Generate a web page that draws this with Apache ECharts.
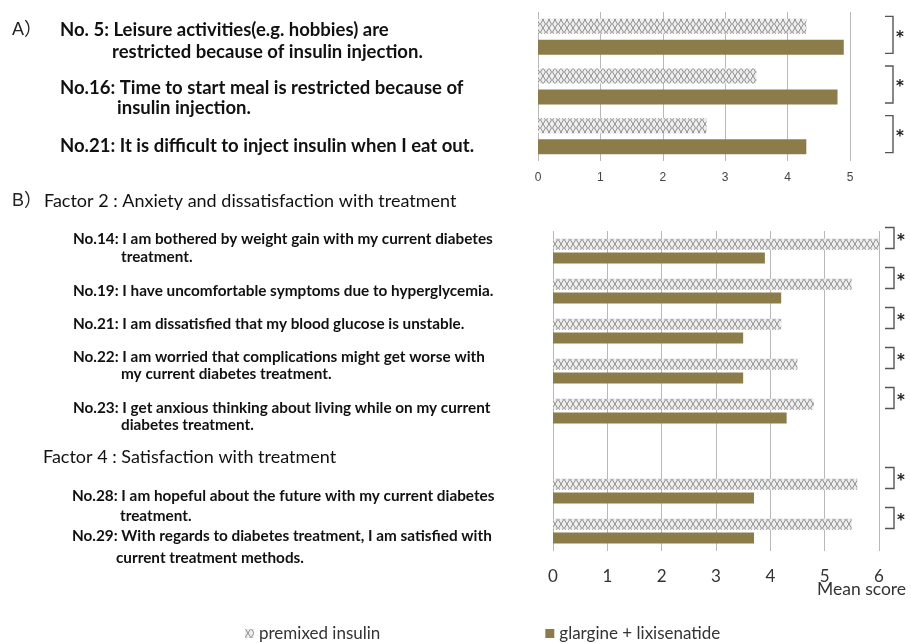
<!DOCTYPE html>
<html>
<head>
<meta charset="utf-8">
<script src="https://cdn.jsdelivr.net/npm/echarts@6/dist/echarts.min.js"></script>
<style>
  html, body { margin: 0; padding: 0; background: #fff; }
  #chart { width: 911px; height: 643px; }
</style>
</head>
<body>
<div id="chart"></div>
<script>
// ---- data ----
const seriesNames = ['premixed insulin', 'glargine + lixisenatide'];

// A) items restricted by insulin injection
const topCats = ['No.5', 'No.16', 'No.21'];
const topPremixed = [4.3, 3.5, 2.7];
const topGlargine = [4.9, 4.8, 4.3];
const topSig = ['*', '*', '*'];
const topTicks = [0, 1, 2, 3, 4, 5];
const topItems = [
  ['No. 5: Leisure activities(e.g. hobbies) are', 'restricted because of insulin injection.'],
  ['No.16: Time to start meal is restricted because of', 'insulin injection.'],
  ['No.21: It is difficult to inject insulin when I eat out.']
];

// B) factor 2 / factor 4 items ('' is the spacer row between the factors)
const bottomCats = ['No.14', 'No.19', 'No.21', 'No.22', 'No.23', '', 'No.28', 'No.29'];
const bottomPremixed = [6.0, 5.5, 4.2, 4.5, 4.8, null, 5.6, 5.5];
const bottomGlargine = [3.9, 4.2, 3.5, 3.5, 4.3, null, 3.7, 3.7];
const bottomSig = ['*', '*', '*', '*', '*', '', '*', '*'];
const bottomTicks = [0, 1, 2, 3, 4, 5, 6];
const factor2Title = 'Factor 2 : Anxiety and dissatisfaction with treatment';
const factor4Title = 'Factor 4 : Satisfaction with treatment';
const factor2Items = [
  ['No.14: I am bothered by weight gain with my current diabetes', 'treatment.'],
  ['No.19: I have uncomfortable symptoms due to hyperglycemia.'],
  ['No.21: I am dissatisfied that my blood glucose is unstable.'],
  ['No.22: I am worried that complications might get worse with', 'my current diabetes treatment.'],
  ['No.23: I get anxious thinking about living while on my current', 'diabetes treatment.']
];
const factor4Items = [
  ['No.28: I am hopeful about the future with my current diabetes', 'treatment.'],
  ['No.29: With regards to diabetes treatment, I am satisfied with', 'current treatment methods.']
];
const axisTitle = 'Mean score';

// ---- styling helpers ----
const FONT = 'Lato, "Open Sans", sans-serif';
const OLIVE = '#8b7c4a';

function hatchTile() {
  const c = document.createElement('canvas');
  c.width = 6; c.height = 8;
  const g = c.getContext('2d');
  g.fillStyle = '#eeeeee';
  g.fillRect(0, 0, 6, 8);
  g.strokeStyle = '#8d8d8d';
  g.lineWidth = 1;
  g.beginPath();
  g.moveTo(0.5, 0); g.lineTo(3, 4); g.lineTo(0.5, 8);
  g.moveTo(5.5, 0); g.lineTo(3, 4); g.lineTo(5.5, 8);
  g.stroke();
  return c;
}
const hatch = { image: hatchTile(), repeat: 'repeat' };

// significance bracket "]*" drawn to the right of a category row
function bracketSeries(gridIdx, sig, xMax, opt) {
  return {
    type: 'custom',
    xAxisIndex: gridIdx,
    yAxisIndex: gridIdx,
    clip: false,
    silent: true,
    data: sig.map((s, i) => [xMax, i]),
    renderItem: function (params, api) {
      const s = sig[params.dataIndex];
      if (!s) return null;
      const p = api.coord([api.value(0), api.value(1)]);
      const x0 = p[0] + opt.dx;
      const yc = p[1] + opt.dy;
      const y0 = yc - opt.h / 2, y1 = yc + opt.h / 2;
      return {
        type: 'group',
        children: [
          {
            type: 'polyline',
            shape: { points: [[x0, y0], [x0 + opt.w, y0], [x0 + opt.w, y1], [x0, y1]] },
            style: { stroke: '#555', lineWidth: 1.4, fill: null }
          },
          {
            type: 'text',
            style: {
              text: s, x: x0 + opt.w + 3, y: yc + 3,
              font: 'bold 15px "DejaVu Sans", sans-serif', fill: '#222',
              verticalAlign: 'middle'
            }
          }
        ]
      };
    }
  };
}

// left-hand statement text
const graphics = [];
function addText(text, x, y, font, fill) {
  graphics.push({
    type: 'text', x: x, y: y, silent: true,
    style: { text: text, font: font, fill: fill || '#111', verticalAlign: 'middle' }
  });
}
const topFont = 'bold 18.5px ' + FONT;
const itemFont = 'bold 15.3px ' + FONT;
const headFont = '18px ' + FONT;

addText('A）', 12, 30, '18px "Liberation Sans", "Noto Sans CJK JP", sans-serif', '#222');
const topRowY = [[30, 52], [88, 108], [146]];
const topIndent = [112, 117];
topItems.forEach((lines, i) => {
  addText(lines[0], 60, topRowY[i][0], topFont);
  if (lines[1]) addText(lines[1], topIndent[i], topRowY[i][1], topFont);
});

addText('B）', 12, 201, '18px "Liberation Sans", "Noto Sans CJK JP", sans-serif', '#222');
addText(factor2Title, 44, 201, headFont, '#111');
const f2Y = [[239, 257], [291], [324], [357, 374], [408, 425]];
factor2Items.forEach((lines, i) => {
  addText(lines[0], 73, f2Y[i][0], itemFont);
  if (lines[1]) addText(lines[1], 121, f2Y[i][1], itemFont);
});
addText(factor4Title, 43, 457, headFont, '#111');
const f4Y = [[496, 516], [536, 558]];
const f4Indent = [120, 116];
factor4Items.forEach((lines, i) => {
  addText(lines[0], 72, f4Y[i][0], itemFont);
  if (lines[1]) addText(lines[1], f4Indent[i], f4Y[i][1], itemFont);
});
addText(axisTitle, 817, 589, '17.5px ' + FONT, '#333');

// ---- chart ----
const chart = echarts.init(document.getElementById('chart'), null, { renderer: 'canvas' });

const splitLine = { show: true, lineStyle: { color: '#b8b8b8', width: 1 } };

chart.setOption({
  animation: false,
  backgroundColor: '#fff',
  legend: {
    data: seriesNames,
    left: 240, top: 620,
    itemWidth: 9, itemHeight: 9, itemGap: 165,
    itemTextGap: 5,
    icon: 'rect',
    textStyle: { fontFamily: FONT, fontSize: 17, color: '#333' }
  },
  grid: [
    { left: 538, width: 312, top: 12, height: 149 },
    { left: 553, width: 326, top: 231, height: 320 }
  ],
  xAxis: [
    {
      gridIndex: 0, type: 'value', min: topTicks[0], max: topTicks[topTicks.length - 1], interval: 1,
      axisLine: { show: false }, axisTick: { show: false }, splitLine: splitLine,
      axisLabel: { margin: 11, fontSize: 12, color: '#444', fontFamily: '"Liberation Sans", sans-serif' }
    },
    {
      gridIndex: 1, type: 'value', min: bottomTicks[0], max: bottomTicks[bottomTicks.length - 1], interval: 1,
      axisLine: { show: false }, axisTick: { show: false }, splitLine: splitLine,
      axisLabel: { margin: 17, fontSize: 17, color: '#333', fontFamily: FONT }
    }
  ],
  yAxis: [
    {
      gridIndex: 0, type: 'category', data: topCats, inverse: true,
      axisLine: { show: false }, axisTick: { show: false }, axisLabel: { show: false }
    },
    {
      gridIndex: 1, type: 'category', data: bottomCats, inverse: true,
      axisLine: { show: false }, axisTick: { show: false }, axisLabel: { show: false }
    }
  ],
  series: [
    {
      name: seriesNames[0], type: 'bar', xAxisIndex: 0, yAxisIndex: 0,
      data: topPremixed, barWidth: 15, barGap: '40%',
      itemStyle: { color: hatch }
    },
    {
      name: seriesNames[1], type: 'bar', xAxisIndex: 0, yAxisIndex: 0,
      data: topGlargine, barWidth: 15, barGap: '40%',
      itemStyle: { color: OLIVE }
    },
    {
      name: seriesNames[0], type: 'bar', xAxisIndex: 1, yAxisIndex: 1,
      data: bottomPremixed, barWidth: 11, barGap: '25%',
      itemStyle: { color: hatch }
    },
    {
      name: seriesNames[1], type: 'bar', xAxisIndex: 1, yAxisIndex: 1,
      data: bottomGlargine, barWidth: 11, barGap: '25%',
      itemStyle: { color: OLIVE }
    },
    bracketSeries(0, topSig, topTicks[topTicks.length - 1], { dx: 35, dy: -2, w: 8, h: 37 }),
    bracketSeries(1, bottomSig, bottomTicks[bottomTicks.length - 1], { dx: 6, dy: -13, w: 9, h: 21 })
  ],
  graphic: graphics
});
</script>
</body>
</html>
